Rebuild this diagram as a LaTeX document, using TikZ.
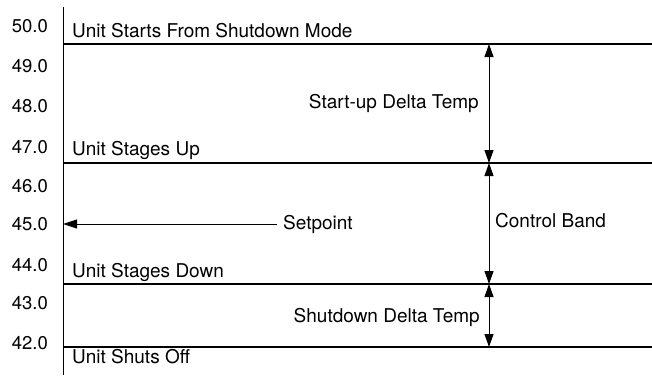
\documentclass[tikz,border=0pt]{standalone}
\usepackage{fontspec}
\setmainfont{TeX Gyre Heros}
\usetikzlibrary{arrows.meta,positioning}

\begin{document}
\begin{tikzpicture}[x=1pt, y=-1pt,
  arr/.style={{Triangle[length=13pt,width=9pt]}-{Triangle[length=13pt,width=9pt]}, line width=1pt},
  lvl/.style={line width=1.1pt},
  lab/.style={font=\fontsize{19}{22}\selectfont, inner sep=0pt},
  num/.style={font=\fontsize{18.5}{22}\selectfont, inner sep=0pt, anchor=east}
]
\useasboundingbox (0,0) rectangle (652,375);

% Temperature scale
\draw[line width=1pt] (63,7) -- (63,375);
\foreach \v/\y in {50.0/26, 49.0/66, 48.0/106, 47.0/147, 46.0/186,
                   45.0/224, 44.0/265, 43.0/303, 42.0/343} {
  \node[num] at (48,\y) {\v};
}

% Switching levels
\coordinate (startL) at (63,44);  \coordinate (startR) at (652,44);
\coordinate (upL)    at (63,163); \coordinate (upR)    at (652,163);
\coordinate (downL)  at (63,284); \coordinate (downR)  at (652,284);
\coordinate (offL)   at (63,347); \coordinate (offR)   at (652,347);
\draw[lvl] (startL) -- (startR);
\draw[lvl] (upL) -- (upR);
\draw[lvl] (downL) -- (downR);
\draw[lvl] (offL) -- (offR);

\node[lab, anchor=base west] (startTxt) at (72,37)  {Unit Starts From Shutdown Mode};
\node[lab, anchor=base west] (upTxt)    at (72,155) {Unit Stages Up};
\node[lab, anchor=base west] (downTxt)  at (72,277) {Unit Stages Down};
\node[lab, anchor=base west] (offTxt)   at (72,363) {Unit Shuts Off};

% Bands between the levels
\coordinate (b1) at (489,44);
\coordinate (b2) at (489,163);
\coordinate (b3) at (489,284);
\coordinate (b4) at (489,347);
\draw[arr] (b1) -- (b2);
\draw[arr] (b2) -- (b3);
\draw[arr] (b3) -- (b4);

\node[lab, anchor=base east] (startBand) at (479,108) {Start-up Delta Temp};
\node[lab, anchor=base west] (ctrlBand)  at (495,227) {Control Band};
\node[lab, anchor=base east] (shutBand)  at (480,322) {Shutdown Delta Temp};

% Setpoint
\node[lab, anchor=west] (setpt) at (283,224) {Setpoint};
\coordinate (sp) at (63,224);
\draw[-{Triangle[length=14pt,width=9pt]}, line width=1pt] ([xshift=-6pt]setpt.west) -- (sp);

\end{tikzpicture}
\end{document}
